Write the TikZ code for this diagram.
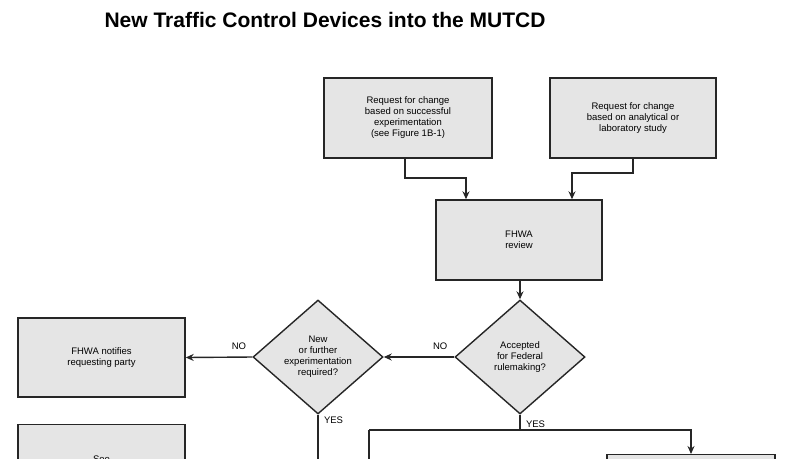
\documentclass[tikz,border=0pt]{standalone}
\usepackage{fontspec}
\setmainfont{Liberation Sans}
\usetikzlibrary{shapes.geometric,arrows.meta}
\begin{document}
\begin{tikzpicture}[x=1pt,y=-1pt,
 box/.style={draw=black!85,line width=1.4pt,fill=black!10,align=center,font=\fontsize{9.5}{11}\selectfont},
 dia/.style={draw=black!85,line width=1.4pt,fill=black!10,diamond,align=center,font=\fontsize{9.5}{11}\selectfont,inner sep=0pt},
 conn/.style={line width=1.4pt,draw=black!85},
 arr/.style={conn,-{Stealth[length=8pt,width=7pt]}},
 lab/.style={font=\fontsize{9.5}{11}\selectfont}]
\useasboundingbox (0,0) rectangle (792,475);
\begin{scope}
\clip (0,0) rectangle (792,458);
\node[font=\bfseries\fontsize{21}{24}\selectfont,anchor=base west] (title) at (101,27) {New Traffic Control Devices into the MUTCD};
\node[box,minimum width=168pt,minimum height=80pt] (r1) at (408,118) {Request for change\\based on successful\\experimentation\\(see Figure 1B-1)};
\node[box,minimum width=166pt,minimum height=80pt] (r2) at (633,118) {Request for change\\based on analytical or\\laboratory study};
\node[box,minimum width=166pt,minimum height=80pt] (fr) at (519,240) {FHWA\\review};
\node[dia,minimum width=130pt,minimum height=114pt] (d1) at (520,357) {Accepted\\for Federal\\rulemaking?};
\node[dia,minimum width=130pt,minimum height=114pt] (d2) at (318,357) {New\\or further\\experimentation\\required?};
\node[box,minimum width=167pt,minimum height=79pt] (fn) at (101.5,357.5) {FHWA notifies\\requesting party};
\node[box,minimum width=167pt,minimum height=80pt,anchor=north] (see) at (101.5,424) {See\\\phantom{x}};
\node[box,minimum width=168pt,minimum height=60pt,anchor=north] (br) at (691,454) {};
\coordinate (c1) at (405,178);
\coordinate (c2) at (466,178);
\coordinate (c3) at (633,173);
\coordinate (c4) at (572,173);
\coordinate (c5) at (520,430);
\coordinate (c6) at (369,430);
\coordinate (c7) at (691,430);
\coordinate (c8) at (369,470);
\coordinate (c9) at (318,470);
\draw[arr] (r1.south -| c1) -- (c1) -- (c2) -- (c2 |- fr.north);
\draw[arr] (r2.south -| c3) -- (c3) -- (c4) -- (c4 |- fr.north);
\draw[arr] (fr.south -| d1.north) -- (d1.north);
\draw[arr] (d1.west) -- (d2.east) node[lab,pos=0.2,above=3pt] {NO};
\draw[arr] (d2.west) -- (fn.east) node[lab,pos=0.2,above=3pt] {NO};
\draw[conn] (d1.south) -- (c5) node[lab,pos=0.6,right=2pt] {YES};
\draw[conn] (c6) -- (c5);
\draw[arr] (c5) -- (c7) -- (br.north);
\draw[conn] (c6) -- (c8);
\draw[conn] (d2.south) -- (c9) node[lab,pos=0.1,right=2pt] {YES};
\end{scope}
\end{tikzpicture}
\end{document}
